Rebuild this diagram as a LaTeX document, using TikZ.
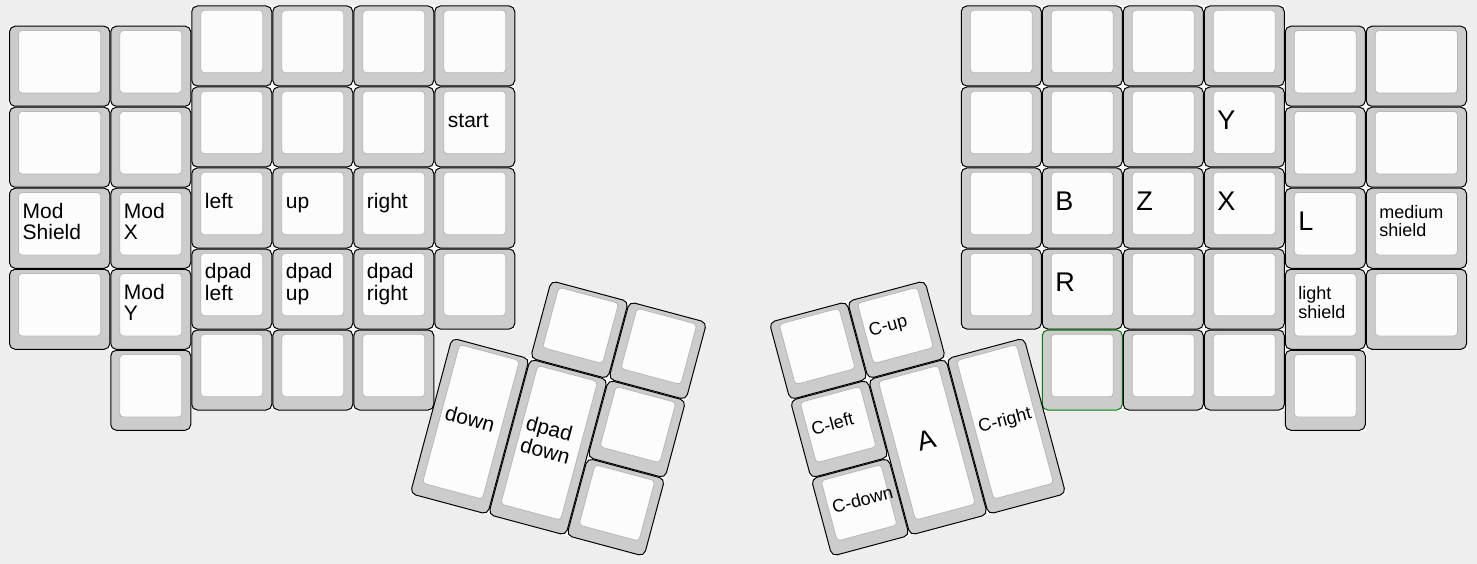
\documentclass[tikz,border=0pt]{standalone}
\usepackage{fontspec}
\setmainfont{Liberation Sans}
\definecolor{bg}{HTML}{EEEEEE}
\definecolor{keygray}{HTML}{CCCCCC}
\definecolor{keytop}{HTML}{FCFCFC}
\definecolor{topline}{HTML}{B8B8B8}
\definecolor{grn}{HTML}{008000}
\newcounter{kc}
\newcommand\lst{\rule[-0.2\baselineskip]{0pt}{\baselineskip}}
\newcommand\KeyUnder[7]{\fill[white] (#1,#2) rectangle (#1+#3,#2+#4);}
\newcommand\KeyDraw[7]{%
  \stepcounter{kc}%
  \draw[keyouter,#7] (#1+0.5,#2+0.5) rectangle (#1+#3-0.5,#2+#4-0.5);
  \draw[keyinner] (#1+9.5,#2+4.75) rectangle (#1+#3-9.5,#2+#4-13.75);
  \if\relax\detokenize{#5}\relax\else
  \node[#6, anchor=west] (key\arabic{kc}) at (#1+13.5,#2+#4/2-6) {#5};
  \fi
}
\newcommand\LeftMain{%
  \K{9}{25.75}{101.25}{81}{}{lab}{}
  \K{9}{106.75}{101.25}{81}{}{lab}{}
  \K{9}{187.75}{101.25}{81}{\lst Mod\\\lst Shield}{lab}{}
  \K{9}{268.75}{101.25}{81}{}{lab}{}
  \K{110.25}{25.75}{81}{81}{}{lab}{}
  \K{110.25}{106.75}{81}{81}{}{lab}{}
  \K{110.25}{187.75}{81}{81}{\lst Mod\\\lst X}{lab}{}
  \K{110.25}{268.75}{81}{81}{\lst Mod\\\lst Y}{lab}{}
  \K{110.25}{349.75}{81}{81}{}{lab}{}
  \K{191.25}{5.5}{81}{81}{}{lab}{}
  \K{191.25}{86.5}{81}{81}{}{lab}{}
  \K{191.25}{167.5}{81}{81}{\lst left}{lab}{}
  \K{191.25}{248.5}{81}{81}{\lst dpad\\\lst left}{lab}{}
  \K{191.25}{329.5}{81}{81}{}{lab}{}
  \K{272.25}{5.5}{81}{81}{}{lab}{}
  \K{272.25}{86.5}{81}{81}{}{lab}{}
  \K{272.25}{167.5}{81}{81}{\lst up}{lab}{}
  \K{272.25}{248.5}{81}{81}{\lst dpad\\\lst up}{lab}{}
  \K{272.25}{329.5}{81}{81}{}{lab}{}
  \K{353.25}{5.5}{81}{81}{}{lab}{}
  \K{353.25}{86.5}{81}{81}{}{lab}{}
  \K{353.25}{167.5}{81}{81}{\lst right}{lab}{}
  \K{353.25}{248.5}{81}{81}{\lst dpad\\\lst right}{lab}{}
  \K{353.25}{329.5}{81}{81}{}{lab}{}
  \K{434.25}{5.5}{81}{81}{}{lab}{}
  \K{434.25}{86.5}{81}{81}{\lst start}{lab}{}
  \K{434.25}{167.5}{81}{81}{}{lab}{}
  \K{434.25}{248.5}{81}{81}{}{lab}{}
}
\newcommand\RightMain{%
  \K{960.75}{5.5}{81}{81}{}{lab}{}
  \K{960.75}{86.5}{81}{81}{}{lab}{}
  \K{960.75}{167.5}{81}{81}{}{lab}{}
  \K{960.75}{248.5}{81}{81}{}{lab}{}
  \K{1041.75}{5.5}{81}{81}{}{lab}{}
  \K{1041.75}{86.5}{81}{81}{}{lab}{}
  \K{1041.75}{167.5}{81}{81}{\lst B}{labL}{}
  \K{1041.75}{248.5}{81}{81}{\lst R}{labL}{}
  \K{1041.75}{329.5}{81}{81}{}{lab}{draw=grn}
  \K{1122.75}{5.5}{81}{81}{}{lab}{}
  \K{1122.75}{86.5}{81}{81}{}{lab}{}
  \K{1122.75}{167.5}{81}{81}{\lst Z}{labL}{}
  \K{1122.75}{248.5}{81}{81}{}{lab}{}
  \K{1122.75}{329.5}{81}{81}{}{lab}{}
  \K{1203.75}{5.5}{81}{81}{}{lab}{}
  \K{1203.75}{86.5}{81}{81}{\lst Y}{labL}{}
  \K{1203.75}{167.5}{81}{81}{\lst X}{labL}{}
  \K{1203.75}{248.5}{81}{81}{}{lab}{}
  \K{1203.75}{329.5}{81}{81}{}{lab}{}
  \K{1284.75}{25.75}{81}{81}{}{lab}{}
  \K{1284.75}{106.75}{81}{81}{}{lab}{}
  \K{1284.75}{187.75}{81}{81}{\lst L}{labL}{}
  \K{1284.75}{268.75}{81}{81}{\lst light\\\lst shield}{labS}{}
  \K{1284.75}{349.75}{81}{81}{}{lab}{}
  \K{1365.75}{25.75}{101.25}{81}{}{lab}{}
  \K{1365.75}{106.75}{101.25}{81}{}{lab}{}
  \K{1365.75}{187.75}{101.25}{81}{\lst medium\\\lst shield}{labS}{}
  \K{1365.75}{268.75}{101.25}{81}{}{lab}{}
}
\newcommand\LeftThumb{%
  \K{-40.5}{-121.5}{81}{81}{}{lab}{}
  \K{40.5}{-121.5}{81}{81}{}{lab}{}
  \K{-121.5}{-40.5}{81}{162}{\lst down}{lab}{}
  \K{-40.5}{-40.5}{81}{162}{\lst dpad\\\lst down}{lab}{}
  \K{40.5}{-40.5}{81}{81}{}{lab}{}
  \K{40.5}{40.5}{81}{81}{}{lab}{}
}
\newcommand\RightThumb{%
  \K{-121.5}{-121.5}{81}{81}{}{lab}{}
  \K{-40.5}{-121.5}{81}{81}{\lst C-up}{labS}{}
  \K{-121.5}{-40.5}{81}{81}{\lst C-left}{labS}{}
  \K{-121.5}{40.5}{81}{81}{\lst C-down}{labS}{}
  \K{-40.5}{-40.5}{81}{162}{}{lab}{}
  \K{40.5}{-40.5}{81}{162}{\lst C-right}{labS}{}
}
\begin{document}
\begin{tikzpicture}[x=1pt,y=-1pt,
  keyouter/.style={draw=black, fill=keygray, line width=1pt, rounded corners=5.5pt},
  keyinner/.style={draw=topline, fill=keytop, line width=0.8pt, rounded corners=3.5pt},
  lab/.style={inner sep=0pt, align=left, text=black, font=\fontsize{21}{21}\selectfont},
  labS/.style={lab, font=\fontsize{18}{18.4}\selectfont},
  labL/.style={lab, font=\fontsize{27}{27}\selectfont}]
\useasboundingbox (0,0) rectangle (1477,564);
\fill[bg] (0,0) rectangle (1477,564);
% underlays
\let\K\KeyUnder
\LeftMain
\RightMain
\begin{scope}[shift={(558.5,408)},rotate=-15]
\LeftThumb
\end{scope}
\begin{scope}[shift={(917.5,408)},rotate=15]
\RightThumb
\end{scope}
% keys
\let\K\KeyDraw
\LeftMain
\RightMain
\begin{scope}[shift={(558.5,408)},rotate=-15,transform shape]
\LeftThumb
\end{scope}
\begin{scope}[shift={(917.5,408)},rotate=15,transform shape]
\RightThumb
\node[labL, anchor=center] (keyA) at (0,34.5) {\lst A};
\end{scope}
\end{tikzpicture}
\end{document}
